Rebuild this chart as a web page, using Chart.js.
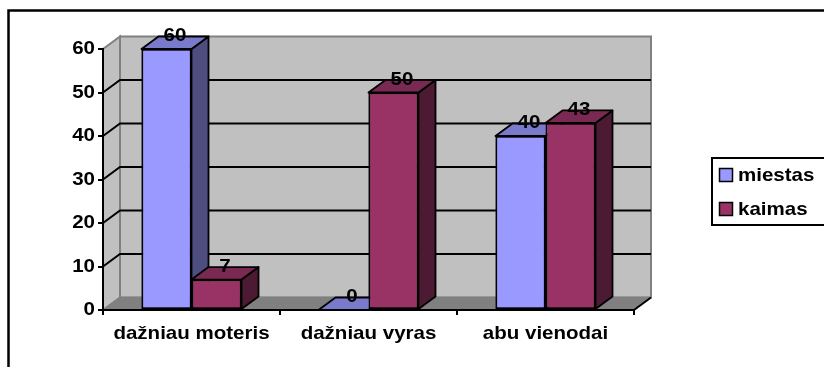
<!DOCTYPE html>
<html>
<head>
<meta charset="utf-8">
<script src="https://cdn.jsdelivr.net/npm/chart.js@4.4.1/dist/chart.umd.min.js"></script>
<style>
  html, body { margin: 0; padding: 0; background: #fff; }
  canvas { display: block; }
</style>
</head>
<body>
<canvas id="c" width="824" height="367"></canvas>
<script>
// Survey answers per group
const categories = ['dažniau moteris', 'dažniau vyras', 'abu vienodai'];
const miestas = [60, 0, 40];
const kaimas = [7, 50, 43];
const seriesNames = ['miestas', 'kaimas'];
const seriesColors = ['#9999FF', '#993366'];
const yTickValues = [0, 10, 20, 30, 40, 50, 60];

// Perspective depth of walls and blocks
const DX = 17, DY = 12.5;
const TEXT_FONT = { family: '"Liberation Sans", Arial, sans-serif', size: 19, weight: 'bold' };
const FONT_CSS = 'bold 19px "Liberation Sans", Arial, sans-serif';
const WIDEN = 1.08;

const canvas = document.getElementById('c');
const ctx = canvas.getContext('2d');

// Slightly wide lettering: stretch every text run horizontally around its anchor
const plainFillText = ctx.fillText.bind(ctx);
ctx.fillText = function (text, x, y) {
  this.save();
  this.translate(x, y);
  this.scale(WIDEN, 1);
  plainFillText(text, 0, 0);
  this.restore();
};

function shade(hex, k) {
  const n = parseInt(hex.slice(1), 16);
  const r = Math.round(((n >> 16) & 255) * k);
  const g = Math.round(((n >> 8) & 255) * k);
  const b = Math.round((n & 255) * k);
  return `rgb(${r},${g},${b})`;
}

function poly(c, pts, fill, stroke, lw) {
  c.beginPath();
  c.moveTo(pts[0][0], pts[0][1]);
  for (let i = 1; i < pts.length; i++) c.lineTo(pts[i][0], pts[i][1]);
  c.closePath();
  if (fill) { c.fillStyle = fill; c.fill(); }
  if (stroke) { c.strokeStyle = stroke; c.lineWidth = lw || 1.5; c.stroke(); }
}

// Back wall, side wall, floor and the wall gridlines
const walls = {
  id: 'walls',
  beforeDraw(chart) {
    const c = chart.ctx;
    const { left, right, top, bottom } = chart.chartArea;
    const ys = chart.scales.y;
    c.save();
    c.lineJoin = 'miter';
    // back wall
    poly(c, [[left + DX, top - DY], [right + DX, top - DY], [right + DX, bottom - DY], [left + DX, bottom - DY]], '#C0C0C0', '#808080', 2);
    // side wall
    poly(c, [[left, top], [left + DX, top - DY], [left + DX, bottom - DY], [left, bottom]], '#C0C0C0', '#808080', 2);
    // floor
    poly(c, [[left, bottom], [right, bottom], [right + DX, bottom - DY], [left + DX, bottom - DY]], '#808080', null);
    c.strokeStyle = '#808080';
    c.lineWidth = 1.5;
    c.beginPath();
    c.moveTo(left, bottom); c.lineTo(left + DX, bottom - DY); c.lineTo(right + DX, bottom - DY);
    c.stroke();
    c.strokeStyle = '#000';
    c.lineWidth = 2;
    c.beginPath();
    c.moveTo(right, bottom); c.lineTo(right + DX, bottom - DY);
    c.stroke();
    // gridlines
    c.strokeStyle = '#000';
    c.lineWidth = 2;
    yTickValues.forEach(v => {
      if (v === ys.min || v === ys.max) return;
      const y = ys.getPixelForValue(v);
      c.beginPath();
      c.moveTo(left, y);
      c.lineTo(left + DX, y - DY);
      c.lineTo(right + DX, y - DY);
      c.stroke();
    });
    c.restore();
  }
};

// Blocks drawn left to right: side, top, then the front face on top
const blocks = {
  id: 'blocks',
  afterDatasetsDraw(chart) {
    const c = chart.ctx;
    const metas = chart.data.datasets.map((d, i) => chart.getDatasetMeta(i));
    c.save();
    c.lineJoin = 'round';
    categories.forEach((cat, i) => {
      metas.forEach((meta, d) => {
        const el = meta.data[i];
        const { x, y, base, width } = el.getProps(['x', 'y', 'base', 'width'], true);
        const l = x - width / 2, r = x + width / 2;
        const t = Math.min(y, base), b = Math.max(y, base);
        const col = seriesColors[d];
        poly(c, [[r, t], [r + DX, t - DY], [r + DX, b - DY], [r, b]], shade(col, 0.5), '#000', 1.8);
        poly(c, [[l, t], [l + DX, t - DY], [r + DX, t - DY], [r, t]], shade(col, 0.8), '#000', 1.8);
        if (b - t > 0.5) el.draw(c);
      });
    });
    // value labels above each block
    c.font = FONT_CSS;
    c.fillStyle = '#000';
    c.textAlign = 'center';
    c.textBaseline = 'middle';
    metas.forEach((meta, d) => {
      const values = chart.data.datasets[d].data;
      meta.data.forEach((el, i) => {
        c.fillText(String(values[i]), el.x + DX / 2, el.y - 13);
      });
    });
    c.restore();
  }
};

// Legend box and outer frame
const frame = {
  id: 'frame',
  afterDraw(chart) {
    const c = chart.ctx;
    c.save();
    c.strokeStyle = '#000';
    c.lineWidth = 2.5;
    c.strokeRect(8.5, 10.5, 900, 400);
    c.lineWidth = 2;
    c.strokeRect(712, 158, 200, 67);
    c.font = FONT_CSS;
    c.textAlign = 'left';
    c.textBaseline = 'middle';
    const rows = [175, 209];
    chart.data.datasets.forEach((ds, i) => {
      c.fillStyle = ds.backgroundColor;
      c.fillRect(719.5, rows[i] - 6.5, 13, 13);
      c.lineWidth = 1.5;
      c.strokeStyle = '#000';
      c.strokeRect(719.5, rows[i] - 6.5, 13, 13);
      c.fillStyle = '#000';
      c.fillText(ds.label, 738, rows[i] + 1);
    });
    c.restore();
  }
};

const axisStyle = {
  display: true,
  drawOnChartArea: false,
  drawTicks: true,
  tickLength: 5,
  color: '#000',
  lineWidth: 2
};

new Chart(ctx, {
  type: 'bar',
  data: {
    labels: categories,
    datasets: [
      { label: seriesNames[0], data: miestas, backgroundColor: seriesColors[0] },
      { label: seriesNames[1], data: kaimas, backgroundColor: seriesColors[1] }
    ]
  },
  options: {
    responsive: false,
    animation: false,
    devicePixelRatio: 1,
    layout: { padding: { top: 49, right: 190, left: 0, bottom: 0 } },
    datasets: {
      bar: {
        categoryPercentage: 0.565,
        barPercentage: 1,
        borderColor: '#000',
        borderWidth: 1.8,
        borderSkipped: false
      }
    },
    plugins: {
      legend: { display: false },
      tooltip: { enabled: false },
      title: { display: false }
    },
    scales: {
      x: {
        grid: Object.assign({ offset: true }, axisStyle),
        border: { display: true, color: '#000', width: 2 },
        ticks: { font: TEXT_FONT, color: '#000', padding: 7, maxRotation: 0, autoSkip: false },
        afterFit(s) { s.height = 57; }
      },
      y: {
        min: 0,
        max: 60,
        grid: axisStyle,
        border: { display: true, color: '#000', width: 2 },
        ticks: { stepSize: 10, font: TEXT_FONT, color: '#000', padding: 3 },
        afterFit(s) { s.width = 103; }
      }
    }
  },
  plugins: [walls, blocks, frame]
});
</script>
</body>
</html>
